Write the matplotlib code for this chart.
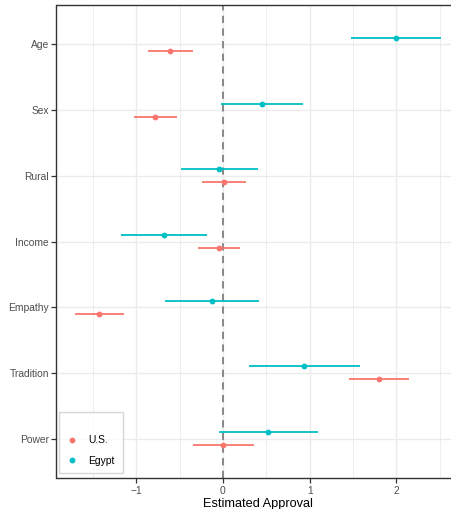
import numpy as np
import matplotlib.pyplot as plt
from matplotlib.lines import Line2D

plt.rcParams['font.family'] = ['Liberation Sans', 'DejaVu Sans']

# predictors, top to bottom
predictors = ['Age', 'Sex', 'Rural', 'Income', 'Empathy', 'Tradition', 'Power']

# U.S. estimates and 95% interval bounds
us_est = [-0.61, -0.78, 0.015, -0.05, -1.43, 1.80, 0.0]
us_lo = [-0.865, -1.03, -0.24, -0.29, -1.71, 1.454, -0.346]
us_hi = [-0.35, -0.53, 0.27, 0.195, -1.14, 2.143, 0.354]

# Egypt estimates and 95% interval bounds
eg_est = [2.0, 0.45, -0.05, -0.685, -0.127, 0.935, 0.523]
eg_lo = [1.48, -0.02, -0.49, -1.18, -0.67, 0.30, -0.046]
eg_hi = [2.52, 0.92, 0.40, -0.18, 0.42, 1.577, 1.093]

US_COL = '#F8766D'
EG_COL = '#00BFC4'

W, H = 452, 509
fig = plt.figure(figsize=(W / 100, H / 100), dpi=100)
left, right, top, bottom = 56.5, 459.6, 5, 478
ax = fig.add_axes([left / W, 1 - bottom / H, (right - left) / W, (bottom - top) / H])

n = len(predictors)
ypos = np.arange(n)[::-1] + 1  # Age on top
dodge = 0.1

for est, lo, hi, col, off in [(us_est, us_lo, us_hi, US_COL, -dodge),
                              (eg_est, eg_lo, eg_hi, EG_COL, dodge)]:
    y = ypos + off
    ax.hlines(y, lo, hi, color=col, lw=1.3, zorder=3)
    ax.plot(est, y, 'o', color=col, ms=4.2, mew=0, zorder=4)

ax.axvline(0, color='#808080', ls=(0, (4, 3)), lw=1.3, zorder=2)

ax.set_xlim(-1.921, 2.73)
ax.set_ylim(0.4, n + 0.6)
ax.set_yticks(ypos)
ax.set_yticklabels(predictors)
ax.set_xticks([-1, 0, 1, 2])
ax.set_xticklabels(['\u22121', '0', '1', '2'])
ax.set_xticks([-1.5, -0.5, 0.5, 1.5, 2.5], minor=True)

ax.grid(True, which='major', color='#EBEBEB', lw=1.0, zorder=0)
ax.grid(True, which='minor', axis='x', color='#EBEBEB', lw=0.6, zorder=0)
ax.set_axisbelow(True)

ax.tick_params(axis='both', which='major', length=3.5, width=0.9, color='#333333',
               labelcolor='#4D4D4D', labelsize=7.4, pad=2)
ax.tick_params(axis='both', which='minor', length=0)
for s in ax.spines.values():
    s.set_color('#333333')
    s.set_linewidth(1.0)

ax.set_xlabel('Estimated Approval', fontsize=9.2, color='black', labelpad=2)

handles = [Line2D([], [], ls='none', marker='o', ms=4.2, mew=0, color=US_COL, label='U.S.'),
           Line2D([], [], ls='none', marker='o', ms=4.2, mew=0, color=EG_COL, label='Egypt')]
leg = ax.legend(handles=handles, loc='lower left', bbox_to_anchor=(0.007, 0.01),
                borderaxespad=0, fontsize=7.4, frameon=True, fancybox=False,
                handletextpad=1.1, labelspacing=1.0, borderpad=0.75, handlelength=1.0,
                title=' ', title_fontsize=3.5)
leg.get_frame().set_edgecolor('#CCCCCC')
leg.get_frame().set_linewidth(1.0)

fig.savefig('out.png', dpi=100)
